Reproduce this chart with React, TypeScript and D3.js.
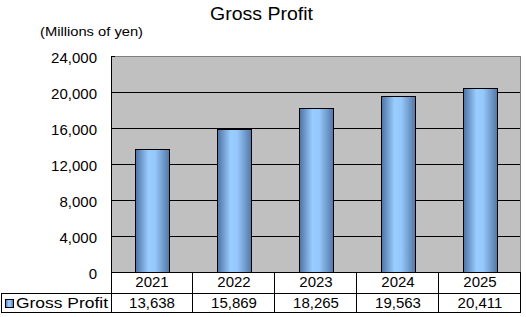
import React from "react";
import * as d3 from "d3";

const categories = ["2021", "2022", "2023", "2024", "2025"];
const grossProfit = [13638, 15869, 18265, 19563, 20411];
const yTicks = [0, 4000, 8000, 12000, 16000, 20000, 24000];
const seriesName = "Gross Profit";
const title = "Gross Profit";
const unitLabel = "(Millions of yen)";

const W = 526;
const H = 317;
const plot = { left: 111, right: 521, top: 56, bottom: 272 };
const row1Bottom = 293;
const row2Bottom = 312;
const FONT = "'Liberation Sans', Arial, sans-serif";

export default function App() {
  const x = d3
    .scaleBand<string>()
    .domain(categories)
    .range([plot.left, plot.right])
    .paddingInner(0)
    .paddingOuter(0);
  const y = d3.scaleLinear().domain([0, 24000]).range([plot.bottom, plot.top]);
  const fmt = d3.format(",");
  const barW = 34;

  return (
    <svg
      width={W}
      height={H}
      style={{ position: "absolute", left: 0, top: 0, background: "#fff" }}
      fontFamily={FONT}
    >
      <defs>
        <linearGradient id="barGrad" x1="0" x2="1" y1="0" y2="0">
          <stop offset="0%" stopColor="#4d72a2" />
          <stop offset="38%" stopColor="#99ccff" />
          <stop offset="58%" stopColor="#96c8fb" />
          <stop offset="100%" stopColor="#5277a6" />
        </linearGradient>
      </defs>
      <rect x={0} y={0} width={W} height={H} fill="#fff" />
      <text x={210} y={20} fontSize={18} textLength={103} lengthAdjust="spacingAndGlyphs" fill="#000">
        {title}
      </text>
      <text x={40} y={36} fontSize={13} textLength={103} lengthAdjust="spacingAndGlyphs" fill="#000">
        {unitLabel}
      </text>

      {/* plot area */}
      <rect
        x={plot.left}
        y={plot.top}
        width={plot.right - plot.left}
        height={plot.bottom - plot.top}
        fill="#c0c0c0"
      />
      {/* gridlines */}
      {yTicks
        .filter((t) => t !== 0 && t !== 24000)
        .map((t) => (
          <line
            key={t}
            x1={plot.left}
            x2={plot.right}
            y1={Math.round(y(t)) + 0.5}
            y2={Math.round(y(t)) + 0.5}
            stroke="#000"
          />
        ))}
      {/* top and right border gray */}
      <line x1={plot.left} x2={plot.right - 0.5} y1={plot.top + 0.5} y2={plot.top + 0.5} stroke="#808080" />
      <line x1={plot.right - 0.5} x2={plot.right - 0.5} y1={plot.top} y2={plot.bottom} stroke="#808080" />
      <line x1={plot.left} x2={plot.left + 4} y1={plot.top + 0.5} y2={plot.top + 0.5} stroke="#000" />

      {/* bars */}
      {grossProfit.map((v, i) => {
        const cx = (x(categories[i]) as number) + x.bandwidth() / 2;
        const top = y(v);
        return (
          <rect
            key={i}
            x={Math.round(cx - barW / 2) + 0.5}
            y={Math.round(top) + 0.5}
            width={barW}
            height={plot.bottom - Math.round(top)}
            fill="url(#barGrad)"
            stroke="#000"
            strokeWidth={1}
          />
        );
      })}

      {/* left axis */}
      <line x1={plot.left + 0.5} x2={plot.left + 0.5} y1={plot.top} y2={row2Bottom} stroke="#000" />
      {yTicks.map((t) => (
        <text
          key={t}
          x={97}
          y={y(t) + 1}
          fontSize={15}
          textAnchor="end"
          dominantBaseline="central"
          fill="#000"
        >
          {fmt(t)}
        </text>
      ))}

      {/* data table */}
      <line x1={plot.left} x2={plot.right} y1={plot.bottom + 0.5} y2={plot.bottom + 0.5} stroke="#000" />
      <line x1={1} x2={plot.right} y1={row1Bottom + 0.5} y2={row1Bottom + 0.5} stroke="#000" />
      <line x1={1} x2={plot.right} y1={row2Bottom + 0.5} y2={row2Bottom + 0.5} stroke="#000" />
      <line x1={1.5} x2={1.5} y1={row1Bottom} y2={row2Bottom + 1} stroke="#000" />
      {categories.map((c) => {
        const bx = x(c) as number;
        return (
          <line
            key={c}
            x1={Math.round(bx + x.bandwidth()) - 0.5}
            x2={Math.round(bx + x.bandwidth()) - 0.5}
            y1={plot.bottom}
            y2={row2Bottom + 1}
            stroke="#000"
          />
        );
      })}
      {categories.map((c) => (
        <text
          key={c}
          x={(x(c) as number) + x.bandwidth() / 2}
          y={287}
          fontSize={15}
          textAnchor="middle"
          fill="#000"
        >
          {c}
        </text>
      ))}
      {grossProfit.map((v, i) => (
        <text
          key={i}
          x={(x(categories[i]) as number) + x.bandwidth() / 2}
          y={308}
          fontSize={15}
          textAnchor="middle"
          fill="#000"
        >
          {fmt(v)}
        </text>
      ))}
      <rect x={5.5} y={299.5} width={8} height={8} fill="url(#barGrad)" stroke="#000" />
      <text x={16} y={308} fontSize={15} textLength={92} lengthAdjust="spacingAndGlyphs" fill="#000">
        {seriesName}
      </text>
    </svg>
  );
}
